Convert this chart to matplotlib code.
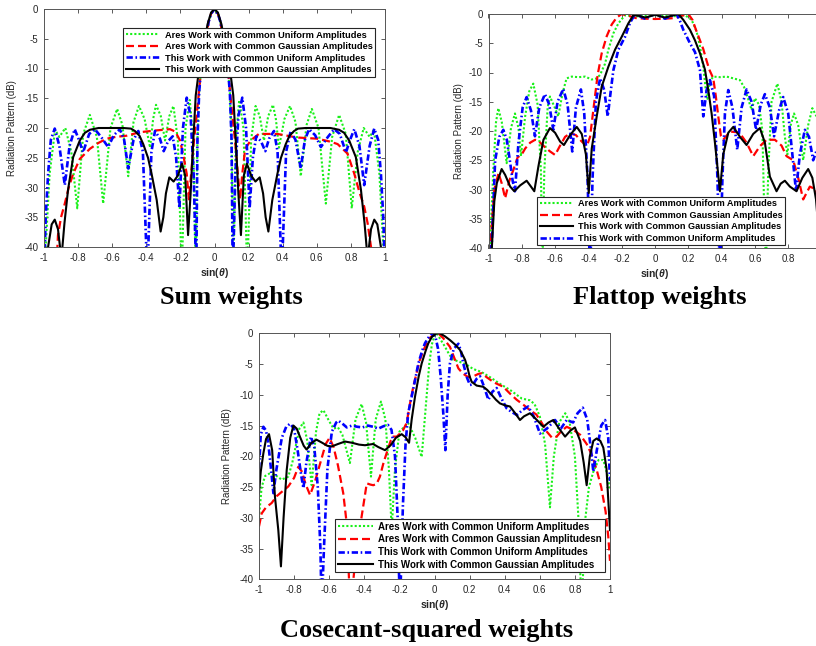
import matplotlib
matplotlib.use("Agg")
import matplotlib.pyplot as plt
from matplotlib.lines import Line2D

plt.rcParams['font.family'] = ['Liberation Sans', 'DejaVu Sans']
plt.rcParams['axes.unicode_minus'] = False
plt.rcParams['mathtext.fontset'] = 'custom'
plt.rcParams['mathtext.it'] = 'Liberation Sans:italic:bold'
plt.rcParams['mathtext.rm'] = 'Liberation Sans:bold'

# ---------------- data: Sum weights ----------------
sum_ares_uni_x = [-1.0, -0.99, -0.967, -0.935, -0.91, -0.875, -0.84, -0.805, -0.77, -0.731, -0.69, -0.653, -0.61, -0.571, -0.54, -0.506, -0.475, -0.443, -0.41, -0.378, -0.36, -0.343, -0.315, -0.29, -0.265, -0.241, -0.215, -0.192, -0.17, -0.145, -0.125, -0.11, -0.1, -0.09, -0.08, -0.065, -0.05, -0.035, -0.02, 0.0,
                  0.02, 0.035, 0.05, 0.065, 0.08, 0.09, 0.1, 0.11, 0.125, 0.145, 0.17, 0.192, 0.215, 0.241, 0.265, 0.29, 0.315, 0.343, 0.36, 0.378, 0.41, 0.443, 0.475, 0.506, 0.54, 0.571, 0.61, 0.653, 0.69, 0.731, 0.77, 0.805, 0.84, 0.875, 0.91, 0.935, 0.967, 0.99, 1.0]
sum_ares_uni_y = [-45, -40, -27.7, -20.3, -21.5, -20.0, -24, -33.5, -21, -17.8, -21.5, -32.7, -20, -16.8, -19.5, -28.1, -19, -16.3, -18.5, -23.3, -18.5, -16.1, -18, -22.1, -18, -16.3, -22, -45, -20, -15.3, -22, -45, -22, -14, -10.5, -7.5, -5, -2.2, -0.8, 0,
                  -0.8, -2.2, -5, -7.5, -10.5, -14, -22, -45, -22, -15.3, -20, -45, -22, -16.3, -18, -22.1, -18, -16.1, -18.5, -23.3, -18.5, -16.3, -19, -28.1, -19.5, -16.8, -20, -32.7, -21.5, -17.8, -21, -33.5, -24, -20.0, -21.5, -20.3, -27.7, -40, -45]

sum_ares_gau_x = [-0.93, -0.918, -0.9, -0.878, -0.855, -0.829, -0.79, -0.731, -0.68, -0.633, -0.58, -0.516, -0.437, -0.339, -0.261, -0.23, -0.202, -0.18, -0.163, -0.15, -0.135, -0.12, -0.105, -0.095, -0.08, -0.065, -0.05, -0.035, -0.02, 0.0,
                  0.02, 0.035, 0.05, 0.065, 0.08, 0.095, 0.105, 0.12, 0.135, 0.15, 0.163, 0.18, 0.212, 0.26, 0.369, 0.486, 0.604, 0.68, 0.722, 0.78, 0.82, 0.849, 0.878, 0.898, 0.918, 0.93]
sum_ares_gau_y = [-45, -38, -35, -32.7, -30, -27.7, -25.2, -23.5, -22.5, -21.8, -21.5, -21.3, -20.7, -20.4, -20.2, -20.6, -22.1, -25, -27.7, -32, -27, -22, -18, -15, -10.5, -7.5, -5, -2.2, -0.8, 0,
                  -0.8, -2.2, -5, -7.5, -10.5, -15, -18, -22, -27, -32, -27.7, -23.5, -22.1, -21.0, -21.0, -21.6, -21.8, -22.3, -22.7, -24.3, -27.7, -30.7, -33.2, -36, -40, -45]

sum_this_uni_x = [-1.0, -0.99, -0.976, -0.96, -0.937, -0.91, -0.878, -0.85, -0.82, -0.795, -0.771, -0.735, -0.702, -0.665, -0.624, -0.59, -0.555, -0.53, -0.506, -0.475, -0.447, -0.42, -0.394, -0.37, -0.349, -0.32, -0.298, -0.272, -0.245, -0.225, -0.206, -0.185, -0.163, -0.14, -0.122, -0.107, -0.1, -0.09, -0.08, -0.065, -0.05, -0.035, -0.02, 0.0,
                  0.02, 0.035, 0.05, 0.065, 0.08, 0.09, 0.1, 0.107, 0.122, 0.14, 0.163, 0.185, 0.206, 0.225, 0.245, 0.272, 0.298, 0.32, 0.349, 0.37, 0.394, 0.42, 0.447, 0.475, 0.506, 0.53, 0.555, 0.59, 0.624, 0.665, 0.702, 0.735, 0.771, 0.795, 0.82, 0.85, 0.878, 0.91, 0.937, 0.96, 0.976, 0.99, 1.0]
sum_this_uni_y = [-45, -35, -27.7, -22, -20.1, -23, -29.6, -23, -20.2, -22, -24.1, -21, -20.2, -21.5, -23.2, -21.2, -20.2, -22, -26.8, -22, -20.5, -24, -45, -24, -20.5, -21.8, -23.9, -22.2, -21.4, -25, -33.5, -20, -14.9, -18, -28, -45, -22, -14, -10.5, -7.5, -5, -2.2, -0.8, 0,
                  -0.8, -2.2, -5, -7.5, -10.5, -14, -22, -45, -28, -18, -14.9, -20, -33.5, -25, -21.4, -22.2, -23.9, -21.8, -20.5, -24, -45, -24, -20.5, -22, -26.8, -22, -20.2, -21.2, -23.2, -21.5, -20.2, -21, -24.1, -22, -20.2, -23, -29.6, -23, -20.1, -22, -27.7, -35, -45]

sum_this_gau_x = [-1.0, -0.976, -0.955, -0.937, -0.918, -0.898, -0.88, -0.859, -0.829, -0.79, -0.76, -0.731, -0.68, -0.6, -0.535, -0.49, -0.467, -0.44, -0.418, -0.39, -0.369, -0.339, -0.316, -0.3, -0.285, -0.265, -0.24, -0.215, -0.19, -0.172, -0.155, -0.14, -0.13, -0.11, -0.09, -0.06, -0.04, -0.02, 0.0,
                  0.02, 0.04, 0.06, 0.09, 0.11, 0.13, 0.14, 0.155, 0.172, 0.19, 0.215, 0.24, 0.265, 0.285, 0.3, 0.316, 0.339, 0.369, 0.39, 0.418, 0.44, 0.467, 0.49, 0.535, 0.6, 0.68, 0.731, 0.76, 0.79, 0.829, 0.859, 0.88, 0.898, 0.918, 0.937, 0.955, 0.976, 1.0]
sum_this_gau_y = [-48, -40, -36.2, -35.4, -37, -42, -36, -30.4, -24.9, -22.1, -20.8, -20.3, -20.0, -20.0, -20.0, -20.1, -20.5, -21.3, -22.7, -25, -27.7, -32.1, -37.4, -35, -31, -28.3, -29.0, -28.0, -26.0, -28, -38, -31, -25, -14.5, -10, -5.5, -2.5, -0.6, 0,
                  -0.6, -2.5, -5.5, -10, -14.5, -25, -31, -38, -28, -26.0, -28.0, -29.0, -28.3, -31, -35, -37.4, -32.1, -27.7, -25, -22.7, -21.3, -20.5, -20.1, -20.0, -20.0, -20.0, -20.3, -20.8, -22.1, -24.9, -30.4, -36, -42, -37, -35.4, -36.2, -40, -48]

# ---------------- data: Flattop weights ----------------
flat_ares_uni_x = [-1.0, -0.99, -0.971, -0.955, -0.941, -0.92, -0.891, -0.865, -0.841, -0.82, -0.805, -0.78, -0.755, -0.731, -0.705, -0.685, -0.677, -0.665, -0.645, -0.631, -0.605, -0.581, -0.555, -0.531, -0.5, -0.46, -0.42, -0.38, -0.35, -0.33, -0.3, -0.28, -0.25, -0.22, -0.18, -0.15, -0.1, -0.05, 0.0,
                   0.05, 0.1, 0.15, 0.18, 0.22, 0.25, 0.27, 0.29, 0.305, 0.315, 0.33, 0.35, 0.39, 0.43, 0.47, 0.51, 0.535, 0.555, 0.58, 0.6, 0.625, 0.645, 0.665, 0.68, 0.7, 0.735, 0.76, 0.78, 0.795, 0.815, 0.835, 0.86, 0.89, 0.92, 0.945, 0.97, 0.99]
flat_ares_uni_y = [-45, -39, -26.6, -18.5, -16.1, -18.5, -25.5, -19.5, -17.0, -19.5, -24.3, -17.5, -13.2, -11.9, -15.5, -27, -45, -27, -16, -14.1, -15.8, -17.5, -13.5, -11.0, -10.7, -10.8, -10.7, -11.2, -11.0, -10.4, -8.5, -6.1, -3.3, -1.6, -0.2, -0.3, -0.4, -0.3, -0.2,
                   -0.3, -0.4, -0.3, -0.2, -1.0, -3.0, -5.5, -9.0, -13.0, -14.5, -11.5, -10.7, -10.8, -10.7, -11.0, -11.3, -12.5, -14.1, -16.4, -14.4, -15.5, -20, -45, -27, -15, -11.9, -15, -21, -24, -19, -17, -19, -25, -19, -16.1, -17.5, -20]

flat_ares_gau_x = [-1.0, -0.985, -0.965, -0.94, -0.92, -0.9, -0.875, -0.85, -0.825, -0.8, -0.78, -0.75, -0.72, -0.7, -0.66, -0.63, -0.6, -0.57, -0.54, -0.51, -0.475, -0.44, -0.41, -0.39, -0.375, -0.36, -0.345, -0.32, -0.29, -0.26, -0.23, -0.2, -0.16, -0.114, -0.06, 0.0,
                   0.06, 0.116, 0.16, 0.2, 0.225, 0.246, 0.27, 0.29, 0.31, 0.326, 0.35, 0.365, 0.38, 0.396, 0.41, 0.45, 0.49, 0.51, 0.55, 0.59, 0.63, 0.67, 0.72, 0.76, 0.79, 0.83, 0.86, 0.89, 0.93, 0.967, 0.99]
flat_ares_gau_y = [-45, -38, -30, -27.2, -29, -31.5, -28.5, -26.6, -24.5, -24, -23, -22, -21.5, -21.7, -22.8, -23.5, -24.1, -22.5, -21, -20.4, -20.7, -21.8, -22.6, -21, -17.5, -14, -10.5, -6.7, -3.8, -1.8, -0.6, 0.0, -0.3, -0.7, -0.8, -0.85,
                   -0.8, -0.7, -0.3, 0.0, -1.0, -2.7, -4.5, -6.0, -8.0, -9.5, -11, -14, -17.5, -20.9, -21.5, -20.1, -20.2, -20.4, -22, -24.3, -22.6, -21.5, -21.5, -22.5, -24.3, -25, -28, -31.7, -29.5, -30, -35]

flat_this_gau_x = [-1.0, -0.98, -0.965, -0.95, -0.921, -0.9, -0.87, -0.845, -0.81, -0.771, -0.745, -0.725, -0.7, -0.67, -0.631, -0.6, -0.57, -0.547, -0.51, -0.47, -0.44, -0.415, -0.398, -0.38, -0.35, -0.32, -0.28, -0.24, -0.2, -0.16, -0.13, -0.1, -0.06, -0.03, 0.0,
                   0.03, 0.06, 0.1, 0.14, 0.17, 0.21, 0.24, 0.27, 0.3, 0.32, 0.34, 0.36, 0.39, 0.41, 0.44, 0.47, 0.51, 0.55, 0.59, 0.63, 0.66, 0.69, 0.73, 0.755, 0.78, 0.81, 0.85, 0.885, 0.92, 0.945, 0.967, 0.985]
flat_this_gau_y = [-48, -40, -32, -28.9, -26.5, -27.5, -29.5, -30.3, -29.3, -28.5, -29.5, -30.3, -26, -21.5, -19.5, -20.3, -21.8, -22.4, -20.7, -19.3, -20.5, -24, -30.6, -23, -17.5, -12.4, -9, -6.1, -3.9, -1.6, -0.2, -0.3, -0.6, -0.4, -0.1,
                   -0.4, -0.6, -0.3, 0.0, -1.0, -2.7, -4.5, -6.7, -9.5, -13, -17, -22, -30.3, -24, -20.3, -19.3, -21, -22.4, -20.5, -19.5, -22, -27.8, -30.3, -29, -28.5, -29.5, -30.3, -28, -26.5, -28, -31.7, -38]

flat_this_uni_x = [-1.0, -0.98, -0.96, -0.935, -0.911, -0.89, -0.871, -0.855, -0.841, -0.82, -0.795, -0.771, -0.745, -0.721, -0.695, -0.661, -0.635, -0.611, -0.585, -0.551, -0.525, -0.497, -0.475, -0.445, -0.425, -0.405, -0.39, -0.375, -0.355, -0.33, -0.305, -0.284, -0.265, -0.25, -0.22, -0.18, -0.15, -0.12, -0.09, -0.06, -0.03, 0.0,
                   0.03, 0.06, 0.09, 0.13, 0.15, 0.17, 0.21, 0.24, 0.27, 0.29, 0.31, 0.33, 0.355, 0.375, 0.39, 0.405, 0.42, 0.44, 0.465, 0.494, 0.52, 0.55, 0.58, 0.607, 0.635, 0.66, 0.69, 0.715, 0.745, 0.77, 0.8, 0.825, 0.847, 0.87, 0.9, 0.925, 0.95, 0.975, 0.99]
flat_this_uni_y = [-45, -39, -25, -21, -19.8, -21.5, -25.2, -28.5, -30.3, -22, -16, -14.2, -16.5, -20.9, -16, -13.7, -15.5, -19.8, -15, -12.8, -15.5, -23.5, -16, -12.9, -17, -28, -45, -28, -15, -11, -13, -17.5, -13, -9.6, -6.1, -3.9, -1.5, 0.0, -0.4, -0.8, -0.4, 0.0,
                   -0.4, -0.8, -0.4, 0.0, -1.2, -2.7, -5, -6.5, -9.6, -17.5, -13, -11.3, -14, -28, -45, -28, -17, -13, -16, -23.2, -16, -12.9, -15, -19.8, -15.5, -13.7, -16, -20.9, -16.5, -14.2, -17, -24, -30.3, -24, -19.8, -21, -25, -23, -24]

# ---------------- data: Cosecant-squared weights ----------------
csc_ares_uni_x = [-1.0, -0.985, -0.965, -0.94, -0.9, -0.871, -0.833, -0.81, -0.77, -0.747, -0.725, -0.7, -0.675, -0.655, -0.633, -0.6, -0.575, -0.55, -0.525, -0.482, -0.45, -0.415, -0.39, -0.362, -0.335, -0.305, -0.28, -0.26, -0.244, -0.225, -0.2, -0.15, -0.11, -0.073, -0.05, -0.03, -0.015, 0.0, 0.012,
                  0.03, 0.06, 0.085, 0.107, 0.14, 0.183, 0.22, 0.26, 0.28, 0.32, 0.383, 0.43, 0.497, 0.544, 0.57, 0.6, 0.63, 0.658, 0.68, 0.71, 0.745, 0.77, 0.8, 0.82, 0.838, 0.86, 0.88, 0.905, 0.935, 0.962, 0.985, 1.0]
csc_ares_uni_y = [-30, -25, -23.2, -22.8, -23.2, -23.8, -23.3, -21, -15.5, -14.5, -17.5, -24.7, -16, -13, -12.5, -14.3, -15.5, -15.3, -16.5, -21.1, -14, -11.5, -14.5, -23.3, -14, -11.1, -14, -22, -32, -22, -16, -14.6, -17, -20.1, -12, -5, -1.8, -0.4, 0,
                  -0.8, -2.2, -3.5, -4.3, -4.6, -5.1, -5.8, -6.2, -6.5, -7.2, -8.4, -9.2, -10.6, -10.9, -11.5, -13.5, -18, -28.3, -20, -14.5, -13, -14.5, -20, -30, -45, -30, -25, -22.5, -20.6, -20.6, -23, -25.5]

csc_ares_gau_x = [-1.0, -0.985, -0.96, -0.928, -0.9, -0.871, -0.833, -0.8, -0.776, -0.755, -0.735, -0.709, -0.68, -0.65, -0.62, -0.598, -0.575, -0.55, -0.52, -0.5, -0.48, -0.455, -0.424, -0.4, -0.386, -0.365, -0.349, -0.33, -0.311, -0.29, -0.273, -0.25, -0.235, -0.215, -0.197, -0.18, -0.159, -0.14, -0.121, -0.1, -0.083, -0.06, -0.045, -0.025, -0.007, 0.022,
                  0.05, 0.088, 0.11, 0.136, 0.16, 0.19, 0.221, 0.25, 0.269, 0.3, 0.34, 0.392, 0.43, 0.468, 0.51, 0.544, 0.58, 0.61, 0.64, 0.67, 0.696, 0.72, 0.753, 0.791, 0.83, 0.867, 0.9, 0.924, 0.95, 0.975, 0.99, 1.0]
csc_ares_gau_y = [-31.4, -29.3, -28.3, -27.6, -26.5, -25.8, -24.9, -23.5, -21.7, -22.5, -24.5, -26.3, -24, -21, -18, -17, -18.5, -21.5, -26, -31, -45, -38, -31.4, -27, -24.4, -24.6, -24.7, -24.5, -23.3, -21, -19.5, -17.5, -16.8, -16.8, -16.3, -15.8, -14.6, -11.5, -8.7, -6.2, -4.3, -2.6, -1.6, -0.7, -0.3, 0,
                  -0.8, -2.2, -3.8, -5.7, -6.5, -7.1, -7.0, -6.6, -6.5, -7.2, -8.0, -8.7, -9.8, -10.8, -11.7, -12.5, -13.2, -14.5, -16, -17, -16.8, -16, -15.2, -15.7, -16.5, -18, -20, -22.2, -25, -29, -33, -37]

csc_this_uni_x = [-1.0, -0.99, -0.975, -0.96, -0.947, -0.93, -0.918, -0.9, -0.87, -0.845, -0.823, -0.8, -0.78, -0.76, -0.747, -0.73, -0.704, -0.685, -0.665, -0.65, -0.643, -0.63, -0.61, -0.585, -0.56, -0.548, -0.52, -0.5, -0.47, -0.44, -0.41, -0.38, -0.35, -0.32, -0.29, -0.265, -0.245, -0.225, -0.21, -0.197, -0.18, -0.165, -0.15, -0.13, -0.11, -0.092, -0.07, -0.054, -0.03, -0.012,
                  0.005, 0.02, 0.035, 0.05, 0.062, 0.075, 0.088, 0.11, 0.136, 0.15, 0.164, 0.185, 0.202, 0.22, 0.24, 0.26, 0.28, 0.307, 0.33, 0.354, 0.38, 0.411, 0.44, 0.47, 0.5, 0.534, 0.565, 0.601, 0.64, 0.687, 0.72, 0.753, 0.79, 0.815, 0.845, 0.87, 0.89, 0.905, 0.925, 0.95, 0.972, 0.99, 1.0]
csc_this_uni_y = [-22, -16.5, -15.2, -15.8, -17.9, -22.5, -26, -22, -17, -15.2, -14.7, -15.5, -19, -23, -25.2, -21, -16.8, -18.5, -25, -35, -45, -35, -22, -16, -14.5, -14.2, -14.8, -15.3, -15.0, -15.2, -15.3, -15.0, -15.2, -15.5, -15.1, -14.9, -15.7, -20, -30, -45, -28, -18, -13, -10.3, -7.5, -4.9, -2.8, -1.6, -0.5, 0.0,
                  -0.5, -2.5, -7, -13, -19, -10, -4.9, -2.5, -1.7, -2.8, -4.9, -7.2, -8.4, -8.3, -7.4, -7.0, -8.5, -10.8, -9.5, -8.9, -10.5, -12.2, -12.8, -13.3, -12.5, -11.9, -13.5, -16.3, -15.5, -14.1, -15.5, -14.1, -14.5, -13, -12.1, -14, -18.5, -22.5, -19, -15, -14.1, -17, -24]

csc_this_gau_x = [-1.0, -0.99, -0.975, -0.96, -0.943, -0.925, -0.909, -0.89, -0.875, -0.86, -0.842, -0.822, -0.804, -0.785, -0.767, -0.745, -0.729, -0.7, -0.672, -0.64, -0.61, -0.586, -0.55, -0.51, -0.47, -0.43, -0.396, -0.35, -0.32, -0.282, -0.25, -0.22, -0.187, -0.165, -0.145, -0.13, -0.111, -0.09, -0.073, -0.05, -0.035, -0.015, 0.005, 0.02,
                  0.031, 0.06, 0.088, 0.12, 0.145, 0.16, 0.174, 0.19, 0.2, 0.212, 0.24, 0.278, 0.3, 0.326, 0.35, 0.373, 0.4, 0.43, 0.46, 0.487, 0.51, 0.544, 0.58, 0.62, 0.65, 0.677, 0.71, 0.744, 0.775, 0.8, 0.83, 0.85, 0.867, 0.885, 0.905, 0.924, 0.945, 0.962, 0.98, 1.0]
csc_this_gau_y = [-26, -22.5, -19.5, -17.2, -16.4, -19, -26.6, -32, -37.9, -30, -22.2, -17, -15.0, -15.5, -16.8, -18.3, -18.9, -17.8, -17.3, -17.8, -18.3, -18.4, -18.0, -17.6, -17.8, -18.1, -18.2, -18.0, -18.5, -19.0, -18.2, -17.0, -16.4, -16.9, -17.8, -14, -10.3, -7, -4.9, -2.8, -1.6, -0.6, -0.1, 0.0,
                  0.0, -0.5, -1.1, -1.9, -2.7, -3.5, -4.3, -5.8, -7, -7.9, -8.5, -8.7, -9.2, -10, -10.8, -11.4, -11.7, -11.9, -13, -14.1, -13.5, -13.0, -14, -15.2, -14.5, -14.1, -15.5, -16.8, -15.8, -15.3, -17.5, -21, -24.7, -20, -17.5, -17.1, -17.5, -18.6, -22, -32]

# ---------------- tick labels / texts ----------------
xticks_vals = [-1, -0.8, -0.6, -0.4, -0.2, 0, 0.2, 0.4, 0.6, 0.8, 1]
xtick_labels = ['-1', '-0.8', '-0.6', '-0.4', '-0.2', '0', '0.2', '0.4', '0.6', '0.8', '1']
flat_xticks_vals = [-1, -0.8, -0.6, -0.4, -0.2, 0, 0.2, 0.4, 0.6, 0.8]
flat_xtick_labels = ['-1', '-0.8', '-0.6', '-0.4', '-0.2', '0', '0.2', '0.4', '0.6', '0.8']
yticks_vals = [0, -5, -10, -15, -20, -25, -30, -35, -40]
ytick_labels = ['0', '-5', '-10', '-15', '-20', '-25', '-30', '-35', '-40']
lab_au = 'Ares Work with Common Uniform Amplitudes'
lab_ag = 'Ares Work with Common Gaussian Amplitudes'
lab_ag_csc = 'Ares Work with Common Gaussian Amplitudesn'
lab_tu = 'This Work with Common Uniform Amplitudes'
lab_tg = 'This Work with Common Gaussian Amplitudes'

# ---------------- styles ----------------
GREEN = '#19f019'
RED = '#ff0000'
BLUE = '#0000ff'
BLACK = '#000000'
st_au = dict(color=GREEN, lw=1.5, linestyle=(0, (1.0, 1.0)))
st_ag = dict(color=RED, lw=1.6, linestyle=(0, (3.6, 1.8)))
st_tu = dict(color=BLUE, lw=1.9, linestyle=(0, (2.4, 1.0, 0.6, 1.0)))
st_tg = dict(color=BLACK, lw=1.5, linestyle='-')

fig = plt.figure(figsize=(8.16, 6.46), dpi=100)


def style_axes(ax, xt, xtl, ylab_x, leg_anchor, leg_size, order):
    ax.set_xlim(-1, 1)
    ax.set_ylim(-40, 0)
    ax.set_xticks(xt)
    ax.set_xticklabels(xtl)
    ax.set_yticks(yticks_vals)
    ax.set_yticklabels(ytick_labels)
    ax.tick_params(direction='in', length=3, width=0.6, top=True, right=True,
                   labelsize=7, color='#404040', labelcolor='#262626', pad=4)
    for s in ax.spines.values():
        s.set_color('#555555')
        s.set_linewidth(0.7)
    ax.set_ylabel('Radiation Pattern (dB)', fontsize=7, color='#262626')
    ax.yaxis.set_label_coords(ylab_x, 0.5)
    ax.set_xlabel(r'sin($\theta$)', fontsize=7.5, fontweight='bold', color='#262626')
    h = ax.get_position().height * 646
    ax.xaxis.set_label_coords(0.5, -19.0 / h)
    handles = []
    labels = []
    for st, lab in order:
        handles.append(Line2D([], [], **st))
        labels.append(lab)
    leg = ax.legend(handles, labels, loc='upper left', bbox_to_anchor=leg_anchor,
                    borderaxespad=0, prop={'weight': 'bold', 'size': leg_size},
                    handlelength=3.6, handletextpad=0.6, labelspacing=0.27,
                    borderpad=0.27, fancybox=False, framealpha=1,
                    edgecolor='#262626')
    leg.get_frame().set_linewidth(0.8)


# Sum weights
ax1 = fig.add_axes([44 / 816, 1 - 247 / 646, 341 / 816, 238 / 646])
ax1.plot(sum_ares_uni_x, sum_ares_uni_y, **st_au)
ax1.plot(sum_ares_gau_x, sum_ares_gau_y, **st_ag)
ax1.plot(sum_this_uni_x, sum_this_uni_y, **st_tu)
ax1.plot(sum_this_gau_x, sum_this_gau_y, **st_tg)
style_axes(ax1, xticks_vals, xtick_labels, -26.5 / 341, (0.232, 0.92), 6.7,
           [(st_au, lab_au), (st_ag, lab_ag), (st_tu, lab_tu), (st_tg, lab_tg)])

# Flattop weights
ax2 = fig.add_axes([488.5 / 816, 1 - 248 / 646, 333 / 816, 234 / 646])
ax2.plot(flat_ares_uni_x, flat_ares_uni_y, **st_au)
ax2.plot(flat_ares_gau_x, flat_ares_gau_y, **st_ag)
ax2.plot(flat_this_uni_x, flat_this_uni_y, **st_tu)
ax2.plot(flat_this_gau_x, flat_this_gau_y, **st_tg)
style_axes(ax2, flat_xticks_vals, flat_xtick_labels, -25.0 / 333, (0.146, 0.218), 6.6,
           [(st_au, lab_au), (st_ag, lab_ag), (st_tg, lab_tg), (st_tu, lab_tu)])

# Cosecant-squared weights
ax3 = fig.add_axes([259 / 816, 1 - 579.3 / 646, 351 / 816, 246 / 646])
ax3.plot(csc_ares_uni_x, csc_ares_uni_y, **st_au)
ax3.plot(csc_ares_gau_x, csc_ares_gau_y, **st_ag)
ax3.plot(csc_this_uni_x, csc_this_uni_y, **st_tu)
ax3.plot(csc_this_gau_x, csc_this_gau_y, **st_tg)
style_axes(ax3, xticks_vals, xtick_labels, -26.5 / 351, (0.2165, 0.245), 7.0,
           [(st_au, lab_au), (st_ag, lab_ag_csc), (st_tu, lab_tu), (st_tg, lab_tg)])

title_font = dict(family=['Liberation Serif', 'DejaVu Serif'], fontweight='bold', fontsize=19,
                  ha='center', va='baseline', color='black')
fig.text(231.7 / 816, 1 - 304 / 646, 'Sum weights', **title_font)
fig.text(659.7 / 816, 1 - 304 / 646, 'Flattop weights', **title_font)
fig.text(426.7 / 816, 1 - 637 / 646, 'Cosecant-squared weights', **title_font)

fig.savefig('out.png', dpi=100)
